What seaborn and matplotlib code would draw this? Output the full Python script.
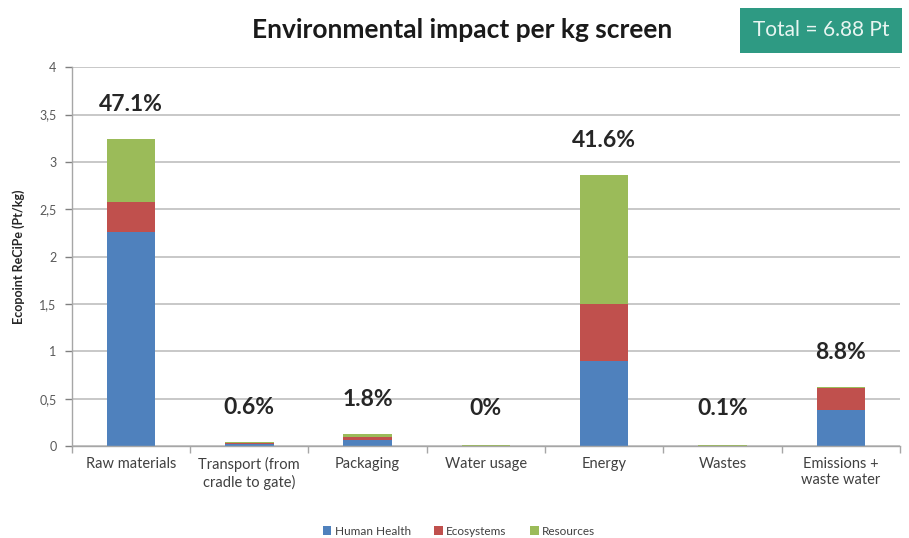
import matplotlib.pyplot as plt
import matplotlib.ticker as mticker
from matplotlib.patches import Patch
import numpy as np
import pandas as pd
import seaborn as sns

categories = ["Raw materials", "Transport (from\ncradle to gate)", "Packaging", "Water usage",
              "Energy", "Wastes", "Emissions +\nwaste water"]
human_health = [2.26, 0.025, 0.06, 0.003, 0.90, 0.003, 0.38]
ecosystems = [0.315, 0.010, 0.04, 0.001, 0.60, 0.001, 0.23]
resources = [0.665, 0.006, 0.025, 0.002, 1.36, 0.003, 0.01]
shares = ["47.1%", "0.6%", "1.8%", "0%", "41.6%", "0.1%", "8.8%"]
total_label = "Total = 6.88 Pt"

colors = {"Human Health": "#4F81BD", "Ecosystems": "#C0504D", "Resources": "#9BBB59"}

sns.set_theme(style="white")
plt.rcParams["font.family"] = ["Lato", "DejaVu Sans"]

df = pd.DataFrame({"category": categories, "Human Health": human_health,
                   "Ecosystems": ecosystems, "Resources": resources})
df["lvl1"] = df["Human Health"]
df["lvl2"] = df["lvl1"] + df["Ecosystems"]
df["lvl3"] = df["lvl2"] + df["Resources"]

fig = plt.figure(figsize=(9.09, 5.38), dpi=100)
ax = fig.add_axes([0.079, 0.171, 0.911, 0.704])

# stacked bars: draw cumulative totals back to front
for col, name in [("lvl3", "Resources"), ("lvl2", "Ecosystems"), ("lvl1", "Human Health")]:
    sns.barplot(data=df, x="category", y=col, color=colors[name], saturation=1,
                width=0.41, ax=ax, order=categories, linewidth=0, edgecolor="none")

ax.set_ylim(0, 4)
ax.set_xlim(-0.5, len(categories) - 0.5)
ax.yaxis.set_major_locator(mticker.MultipleLocator(0.5))
ax.yaxis.set_major_formatter(mticker.FuncFormatter(lambda v, p: f"{v:g}".replace(".", ",")))
ax.grid(axis="y", color="#BFBFBF", linewidth=1.2)
ax.set_axisbelow(True)
for side in ["top", "right"]:
    ax.spines[side].set_visible(False)
for side in ["left", "bottom"]:
    ax.spines[side].set_color("#A6A6A6")
    ax.spines[side].set_linewidth(1)

ax.tick_params(axis="y", colors="#808080", labelsize=9, length=5, width=1, direction="out",
               left=True, pad=6)
ax.tick_params(axis="y", labelcolor="#595959")
ax.tick_params(axis="x", labelsize=10.5, labelcolor="#404040", length=0, pad=8)
ax.set_xticks(range(len(categories)))
ax.set_xticklabels(categories)
ax.set_xticks(np.arange(len(categories) + 1) - 0.5, minor=True)
ax.tick_params(axis="x", which="minor", length=5, color="#A6A6A6", bottom=True)
ax.set_xlabel("")
ax.set_ylabel("Ecopoint ReCiPe (Pt/kg)", fontsize=9, fontweight="bold", color="#262626",
              labelpad=10)

for i, (top, txt) in enumerate(zip(df["lvl3"], shares)):
    ax.annotate(txt, (i, max(top, 0.03)), xytext=(0, 25), textcoords="offset points",
                ha="center", va="center", fontsize=16.5, fontweight="bold", color="#262626")

fig.text(0.508, 0.944, "Environmental impact per kg screen", ha="center", va="center",
         fontsize=19, fontweight="bold", color="#1a1a1a")
fig.text(0.903, 0.944, total_label, ha="center", va="center", fontsize=15, color="#E8F5F1",
         bbox=dict(boxstyle="square,pad=0.6", facecolor="#2E9A83", edgecolor="none"))

handles = [Patch(facecolor=c, edgecolor="none", label=n) for n, c in colors.items()]
fig.legend(handles=handles, loc="center", bbox_to_anchor=(0.505, 0.013), ncol=3,
           frameon=False, fontsize=8.5, handlelength=0.7, handleheight=0.7,
           handletextpad=0.3, columnspacing=2.0, labelcolor="#404040")

fig.savefig("out.png", dpi=100)
